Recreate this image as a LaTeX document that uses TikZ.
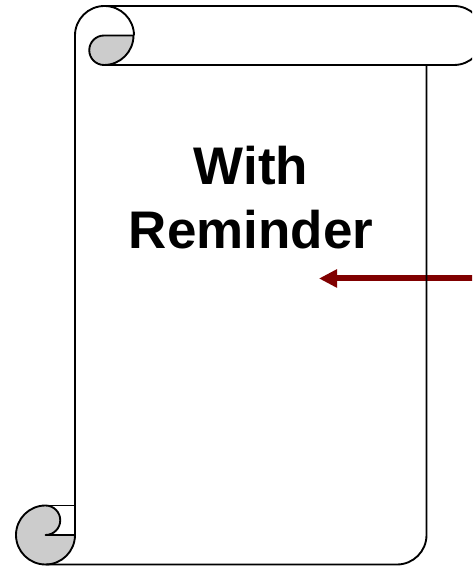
\documentclass[tikz,border=0pt]{standalone}
\usepackage{fontspec}
\setmainfont{Liberation Sans}
\usetikzlibrary{arrows.meta,positioning}
\definecolor{scrollgray}{RGB}{204,204,204}
\definecolor{arrowred}{RGB}{128,0,0}
\tikzset{
    scrollline/.style={black, line width=1.4pt, line join=round},
    scrollcurl/.style={scrollline, fill=scrollgray},
    pointer/.style={arrowred, line width=4.5pt, -{Triangle[length=13.5pt,width=13pt]}}
}

\begin{document}
\begin{tikzpicture}[x=0.75pt,y=0.75pt]
    \clip (0,0) rectangle (472,566);
    % Arrow
    \coordinate (arrowstart) at (473,287.5);
    \coordinate (arrowend) at (319,287.5);
    \draw[pointer] (arrowstart) -- (arrowend);
    % Top curl
    \draw[scrollcurl] (133.5,530.5) arc[start angle=0,end angle=-90,radius=29.5]
        arc[start angle=270,end angle=90,radius=14.75] -- cycle;
    % Top roll
    \draw[scrollline] (75,31) -- (75,530.5) arc[start angle=180,end angle=90,radius=29.5]
        -- (454,560) arc[start angle=90,end angle=-90,radius=29.5] -- (104.5,501);
    \draw[scrollline] (104.5,560) arc[start angle=90,end angle=0,radius=29.5];
    % Bottom curl
    \draw[scrollcurl] (75,31) arc[start angle=0,end angle=-90,radius=29.5]
        arc[start angle=270,end angle=90,radius=29.5]
        arc[start angle=90,end angle=-90,radius=14.75] -- cycle;
    % Body
    \draw[scrollline] (45.5,1.5) -- (397,1.5) arc[start angle=-90,end angle=0,radius=29.5] -- (426.5,501);
    \draw[scrollline] (45.5,60.5) -- (75,60.5);
    % Label
    \node[font=\fontsize{39.7}{48}\selectfont\bfseries, align=center] (title) at (251,368) {With\\Reminder};
\end{tikzpicture}
\end{document}
